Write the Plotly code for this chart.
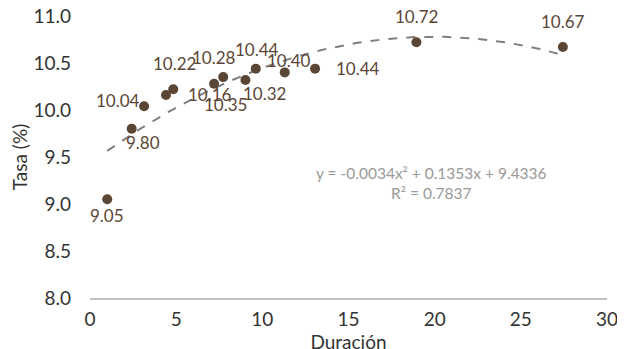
import plotly.graph_objects as go
import numpy as np

duracion = [1.0, 2.42, 3.14, 4.41, 4.83, 7.2, 7.73, 9.02, 9.62, 11.3, 13.06, 18.94, 27.44]
tasa = [9.05, 9.80, 10.04, 10.16, 10.22, 10.28, 10.35, 10.32, 10.44, 10.40, 10.44, 10.72, 10.67]
etiquetas = ["9.05", "9.80", "10.04", "10.16", "10.22", "10.28", "10.35", "10.32", "10.44", "10.40", "10.44", "10.72", "10.67"]
# label offsets in pixels (dx, dy) -- style only
offsets = [(0, -16), (11, -14), (-26, 6), (44, 0), (1, 26), (0, 26), (2, -27),
           (19, -14), (1, 19), (4, 12), (43, 0), (0, 26), (0, 26)]

coef_a, coef_b, coef_c = -0.0034, 0.1353, 9.4336
ecuacion = "y = -0.0034x² + 0.1353x + 9.4336"
r2_texto = "R² = 0.7837"

FONT = "Lato"
BROWN = "#5b4636"

xt = np.linspace(min(duracion), max(duracion), 120)
yt = coef_a * xt**2 + coef_b * xt + coef_c

fig = go.Figure()
fig.add_trace(go.Scatter(x=xt, y=yt, mode="lines",
                         line=dict(color="#7f7f7f", width=2, dash="dash"),
                         hoverinfo="skip", showlegend=False))
fig.add_trace(go.Scatter(x=duracion, y=tasa, mode="markers",
                         marker=dict(color=BROWN, size=10),
                         showlegend=False))

for x, y, t, (dx, dy) in zip(duracion, tasa, etiquetas, offsets):
    fig.add_annotation(x=x, y=y, text=t, showarrow=False, xshift=dx, yshift=dy,
                       font=dict(family=FONT, size=17, color=BROWN))

fig.add_annotation(x=19.8, y=9.22, text=ecuacion + "<br>" + r2_texto, showarrow=False,
                   align="center",
                   font=dict(family=FONT, size=15.5, color="#999999"))

fig.update_layout(
    width=625, height=349,
    margin=dict(l=82, r=26, t=8, b=59),
    paper_bgcolor="white", plot_bgcolor="white",
    font=dict(family=FONT, size=19, color="#333333"),
    xaxis=dict(range=[0, 30], dtick=5, showgrid=False, zeroline=False, automargin=False,
               showline=True, linecolor="#bfbfbf", linewidth=1.5, ticks="",
               tickfont=dict(size=19), ticklabelstandoff=3, ticklabeloverflow="allow",
               title=dict(text="Duración", standoff=0, font=dict(size=19))),
    yaxis=dict(range=[8, 11], dtick=0.5, tickformat=".1f", showgrid=False, automargin=False,
               zeroline=False, showline=False, ticks="", ticklabelstandoff=18,
               tickfont=dict(size=19), ticklabeloverflow="allow",
               title=dict(text="Tasa (%)", standoff=5, font=dict(size=19))),
)

fig.write_html("out.html")
